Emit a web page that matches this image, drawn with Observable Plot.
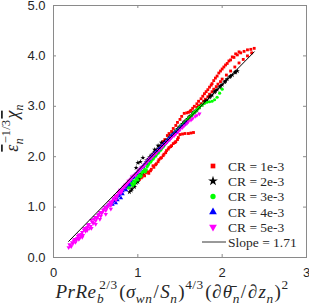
<!DOCTYPE html>
<html><head><meta charset="utf-8">
<script src="https://cdn.jsdelivr.net/npm/d3@7"></script>
<script src="https://cdn.jsdelivr.net/npm/@observablehq/plot@0.6"></script>
<style>body{margin:0;background:#fff}</style>
</head><body><div id="chart"></div>
<script>
const xTicks = [0, 1, 2, 3];
const yTicks = [0, 1, 2, 3, 4, 5];
const seriesLabels = ["CR = 1e-3", "CR = 2e-3", "CR = 3e-3", "CR = 4e-3", "CR = 5e-3"];
const seriesColors = ["#ff0000", "#000000", "#00ff00", "#0000ff", "#ff00ff"];
const slopeLabel = "Slope = 1.71";
const slopeX = [0.18, 2.38];
const slopeY = [0.32, 4.08];

const cr1 = [
 [1.02,1.55],[1.05,1.60],[1.08,1.62],[1.10,1.68],[1.13,1.67],[1.16,1.75],[1.19,1.79],[1.22,1.86],[1.25,1.94],[1.28,1.98],
 [1.31,2.05],[1.34,2.12],[1.37,2.18],[1.40,2.22],[1.42,2.26],[1.45,2.30],[1.48,2.38],
 [1.50,2.44],[1.53,2.45],[1.56,2.46],[1.60,2.46],[1.63,2.47],[1.66,2.48],
 [1.30,2.30],[1.35,2.42],[1.40,2.50],[1.45,2.62],[1.50,2.74],[1.55,2.86],[1.60,2.88],[1.63,2.92],
 [1.20,2.06],[1.25,2.14],[1.30,2.22],[1.35,2.32],[1.40,2.40],[1.45,2.48],[1.50,2.58],[1.55,2.66],[1.60,2.74],
 [1.65,2.96],[1.70,3.05],[1.75,3.15],[1.79,3.25],[1.83,3.33],[1.87,3.42],[1.90,3.51],[1.94,3.60],[1.98,3.70],[2.02,3.78],
 [2.06,3.85],[2.10,3.92],[2.14,3.97],[2.18,4.02],[2.22,4.06],[2.26,4.09],[2.30,4.12],[2.34,4.13],[2.38,4.15],
 [1.70,2.98],[1.75,3.05],[1.80,3.14],[1.85,3.24],[1.90,3.34],[1.95,3.44],[2.00,3.54],[2.05,3.62],[2.10,3.70],[2.15,3.78],
 [2.20,3.86],[2.25,3.93],[2.30,4.00],[2.35,4.06],
 [1.88,3.45],[1.92,3.56],[1.96,3.66],[2.00,3.74],[2.04,3.82],[2.08,3.90],[2.12,3.98],[2.16,4.04],[2.20,4.08],
 [1.04,1.58],[1.07,1.64],[1.12,1.70],[1.15,1.72],[1.18,1.82],[1.21,1.84],[1.24,1.90],[1.27,1.97],[1.30,2.02],[1.33,2.08],
 [1.36,2.15],[1.39,2.20],[1.44,2.28],[1.47,2.34],[1.32,2.34],[1.37,2.46],[1.42,2.56],[1.47,2.68],[1.52,2.80],[1.58,2.87],
 [1.62,2.90],[1.22,2.10],[1.27,2.18],[1.33,2.28],[1.38,2.36],[1.43,2.45],[1.48,2.54],[1.53,2.62],[1.58,2.70],[1.62,2.80],
 [1.67,3.00],[1.72,3.10],[1.77,3.20],[1.81,3.29],[1.85,3.38],[1.72,3.01],[1.78,3.10],[1.83,3.19],[1.88,3.29],[1.93,3.39],[1.98,3.49]
];
const cr2 = [
 [0.90,1.30],[0.93,1.36],[0.95,1.42],[0.98,1.48],[1.00,1.50],[1.03,1.62],[1.06,1.68],[1.08,1.72],
 [0.98,1.78],[1.00,1.88],[1.03,1.90],[1.06,1.98],
 [1.10,1.90],[1.13,1.96],[1.16,2.02],[1.19,2.06],[1.22,2.12],[1.25,2.16],[1.28,2.22],[1.31,2.26],[1.34,2.32],[1.37,2.36],
 [1.40,2.42],[1.43,2.46],[1.46,2.52],[1.49,2.58],[1.52,2.62],[1.55,2.68],[1.58,2.72],[1.61,2.78],[1.64,2.82],[1.67,2.88],
 [1.70,2.92],[1.73,2.98],[1.76,3.03],[1.79,3.08],[1.82,3.12],[1.85,3.18],[1.88,3.22],[1.91,3.28],[1.94,3.33],[1.97,3.38],
 [2.00,3.43],[2.03,3.48],[2.06,3.54],[2.09,3.58],[2.12,3.62],[2.15,3.67],[2.18,3.70],
 [1.11,1.93],[1.14,1.99],[1.17,2.04],[1.20,2.09],[1.23,2.14],[1.26,2.20],[1.29,2.24],[1.32,2.30],[1.35,2.34],[1.38,2.40],
 [1.41,2.44],[1.44,2.50],[1.47,2.55],[1.50,2.60],[1.53,2.65],[1.56,2.70],[1.59,2.75],[1.62,2.80],[1.65,2.86],[1.68,2.90],
 [1.80,3.10],[1.86,3.20],[1.92,3.30],[1.98,3.40],[2.04,3.50],[2.10,3.60],[2.16,3.68],[0.92,1.33],[0.96,1.40],[1.01,1.56],
 [1.04,1.66],[1.20,2.14],[1.24,2.22],[1.28,2.28]
];
const cr3 = [
 [0.86,1.40],[0.88,1.44],[0.90,1.40],[0.92,1.46],[0.94,1.43],[0.95,1.52],[0.97,1.50],[0.99,1.58],[1.01,1.62],[1.03,1.60],
 [1.05,1.68],[1.07,1.72],[1.09,1.70],[1.11,1.80],[1.13,1.86],[1.16,1.92],[1.19,1.98],[1.22,2.04],[1.25,2.10],[1.28,2.16],
 [1.31,2.22],[1.34,2.30],[1.37,2.36],[1.40,2.42],[1.43,2.46],[1.46,2.52],[1.49,2.56],[1.52,2.62],[1.55,2.66],[1.58,2.72],
 [1.61,2.77],[1.64,2.82],[1.67,2.88],[1.70,2.93],[1.73,2.98],[1.76,3.02],[1.79,3.06],[1.82,3.08],[1.85,3.09],[1.88,3.10],
 [1.91,3.13],[1.94,3.18],[1.97,3.26],[2.00,3.34],
 [0.87,1.42],[0.89,1.38],[0.91,1.44],[0.93,1.48],[0.96,1.46],[0.98,1.55],[1.00,1.54],[1.02,1.64],[1.04,1.62],[1.06,1.70],
 [1.08,1.75],[1.10,1.74],[1.12,1.83],[1.15,1.89],[1.18,1.95],[1.21,2.01],[1.24,2.07],[1.27,2.13],[1.30,2.19],[1.33,2.26],
 [1.36,2.33],[1.39,2.39],[1.42,2.44],[1.45,2.50],[1.48,2.54],[1.51,2.60],[1.54,2.64],[1.57,2.70],[1.60,2.75],[1.63,2.80],
 [1.66,2.86],[1.69,2.91],[1.72,2.96]
];
const cr4 = [
 [0.62,0.98],[0.66,1.04],[0.70,1.10],[0.72,1.12],[0.75,1.20],[0.78,1.25],[0.80,1.30],[0.83,1.36],[0.86,1.42],[0.89,1.49],
 [0.92,1.55],[0.95,1.60],[0.98,1.66],[1.01,1.72],[1.04,1.78],[1.07,1.83],[1.10,1.89],[1.13,1.94],[1.16,2.00],[1.19,2.05],
 [1.22,2.10],[1.25,2.15],[1.28,2.20],[1.31,2.25],[1.34,2.30],[1.37,2.36],[1.40,2.41],[1.43,2.46],[1.46,2.50],[1.49,2.55],
 [1.52,2.60],[1.55,2.64],[1.58,2.69],[0.74,1.08],[0.80,1.18],[0.86,1.34],
 [0.64,1.02],[0.68,1.08],[0.71,1.14],[0.74,1.18],[0.77,1.22],[0.79,1.28],[0.82,1.32],[0.85,1.40],[0.88,1.46],[0.91,1.52],
 [0.94,1.58],[0.97,1.63],[1.00,1.69],[1.03,1.75],[1.06,1.80],[1.09,1.86],[1.12,1.92],[1.15,1.97],[1.18,2.02],[1.21,2.08],
 [1.24,2.13],[1.27,2.18],[1.30,2.23],[1.33,2.28],[1.36,2.33],[1.39,2.39],[1.42,2.44],[1.45,2.48],[1.48,2.53],[1.51,2.58],
 [1.54,2.62],[1.57,2.67],[0.70,1.05],[0.76,1.14],[0.82,1.26],[0.90,1.44]
];
const cr5 = [
 [0.18,0.20],[0.20,0.24],[0.22,0.30],[0.24,0.33],[0.26,0.30],[0.28,0.38],[0.30,0.45],[0.32,0.42],[0.34,0.50],[0.36,0.55],
 [0.38,0.52],[0.40,0.60],[0.42,0.66],[0.44,0.62],[0.46,0.70],[0.48,0.76],[0.50,0.73],[0.52,0.80],[0.54,0.86],[0.56,0.82],
 [0.58,0.90],[0.60,0.96],[0.62,0.93],[0.64,1.00],[0.66,1.06],[0.68,1.03],[0.70,1.12],[0.72,1.18],[0.74,1.14],[0.76,1.24],
 [0.78,1.30],[0.80,1.28],[0.82,1.36],[0.84,1.40],[0.86,1.44],[0.88,1.48],[0.90,1.52],[0.92,1.56],[0.95,1.62],[0.98,1.66],
 [1.00,1.70],[1.04,1.78],[1.08,1.84],[1.12,1.92],[1.16,1.98],[1.20,2.05],[1.25,2.13],[1.30,2.22],[1.35,2.30],[1.40,2.38],
 [1.45,2.45],[1.50,2.54],[1.55,2.62],[1.60,2.70],[1.65,2.76],[1.70,2.82],[1.73,2.85],
 [0.30,0.36],[0.34,0.40],[0.40,0.54],[0.45,0.58],[0.50,0.66],[0.55,0.76],[0.62,0.86],[0.68,0.96],
 [0.19,0.26],[0.21,0.22],[0.23,0.28],[0.25,0.36],[0.27,0.34],[0.29,0.42],[0.31,0.38],[0.33,0.46],[0.35,0.44],[0.37,0.58],
 [0.39,0.56],[0.41,0.64],[0.43,0.58],[0.45,0.74],[0.47,0.68],[0.49,0.80],[0.51,0.78],[0.53,0.84],[0.55,0.90],[0.57,0.88],
 [0.59,0.94],[0.61,1.00],[0.63,0.98],[0.65,1.04],[0.67,1.10],[0.69,1.08],[0.71,1.16],[0.73,1.22],[0.75,1.20],[0.77,1.28],
 [0.79,1.34],[0.81,1.32],[0.83,1.40],[0.85,1.44],[0.87,1.46],[0.89,1.52],[0.91,1.54],[0.93,1.60],[0.97,1.64],[1.02,1.74],
 [1.06,1.80],[1.10,1.88],[1.14,1.96],[1.18,2.02],[1.22,2.08],[1.28,2.18],[1.33,2.26],[1.38,2.34],[1.43,2.42],[1.48,2.50],
 [1.53,2.58],[1.58,2.66],[1.63,2.73],[1.68,2.80]
];

const triangleDown = {
  draw(ctx, size) {
    const s3 = Math.sqrt(3);
    const y = -Math.sqrt(size / (s3 * 3));
    ctx.moveTo(0, -y * 2);
    ctx.lineTo(-s3 * y, y);
    ctx.lineTo(s3 * y, y);
    ctx.closePath();
  }
};
const symbols = ["square", "star", "circle", "triangle", triangleDown];
const d3Symbols = [d3.symbolSquare, d3.symbolStar, d3.symbolCircle, d3.symbolTriangle, triangleDown];
const allSeries = [cr1, cr2, cr3, cr4, cr5];
const toRows = (arr) => arr.map(([x, y]) => ({x, y}));
const slopeRows = slopeX.map((x, i) => ({x, y: slopeY[i]}));

const axisColor = "#8a8a8a";
const textColor = "#262626";

const plot = Plot.plot({
  width: 309, height: 305,
  marginLeft: 53, marginRight: 3, marginTop: 5, marginBottom: 48,
  x: {domain: [0, 3]},
  y: {domain: [0, 5]},
  style: {fontFamily: "'Liberation Sans', Arial, sans-serif", fontSize: "13px", color: textColor, background: "white"},
  marks: [
    ...allSeries.map((s, i) => Plot.dot(toRows(s), {
      x: "x", y: "y", symbol: () => symbols[i], fill: seriesColors[i], stroke: "none", r: 1.6
    })),
    Plot.line(slopeRows, {x: "x", y: "y", stroke: "black", strokeWidth: 1}),
    Plot.frame({stroke: axisColor}),
    Plot.tickX(xTicks, {x: d => d, insetTop: 249, stroke: axisColor}),
    Plot.tickX(xTicks, {x: d => d, insetBottom: 249, stroke: axisColor}),
    Plot.tickY(yTicks, {y: d => d, insetLeft: 250, stroke: axisColor}),
    Plot.tickY(yTicks, {y: d => d, insetRight: 250, stroke: axisColor}),
    Plot.axisX(xTicks, {tickSize: 0, tickPadding: 10, label: null, fill: textColor}),
    Plot.axisY(yTicks, {tickSize: 0, tickPadding: 8, label: null, tickFormat: d3.format(".1f"), fill: textColor})
  ]
});
document.getElementById("chart").appendChild(plot);

const svg = d3.select(plot);
const serif = "'Liberation Serif', 'Times New Roman', serif";

// Legend
const legendRowsY = [166, 181, 196.5, 212, 227, 242];
const legend = svg.append("g").attr("text-anchor", "start");
const symSizes = [22, 30, 22, 26, 26];
seriesLabels.forEach((lab, i) => {
  legend.append("path")
    .attr("d", d3.symbol(d3Symbols[i], symSizes[i])())
    .attr("transform", `translate(213,${legendRowsY[i]})`)
    .attr("fill", seriesColors[i]);
  legend.append("text").attr("x", 228).attr("y", legendRowsY[i]).attr("dy", "0.35em")
    .attr("text-anchor", "start")
    .attr("font-family", serif).attr("font-size", 13.5).attr("fill", textColor).text(lab);
});
legend.append("line").attr("x1", 202).attr("x2", 226).attr("y1", legendRowsY[5]).attr("y2", legendRowsY[5])
  .attr("stroke", "black").attr("stroke-width", 0.8);
legend.append("text").attr("x", 228).attr("y", legendRowsY[5]).attr("dy", "0.35em")
  .attr("text-anchor", "start")
  .attr("font-family", serif).attr("font-size", 13.5).attr("fill", textColor).text(slopeLabel);

// math label helper
function mathText(g, parts, base) {
  const t = g.append("text").attr("font-family", serif).attr("font-size", base).attr("fill", textColor);
  let cur = 0;
  parts.forEach(p => {
    const shift = p.s === "sub" ? base * 0.28 : p.s === "sup" ? -base * 0.45 : 0;
    const ts = t.append("tspan").text(p.t)
      .attr("dy", shift - cur)
      .attr("font-size", p.s ? base * 0.7 : base)
      .attr("font-style", p.it ? "italic" : "normal");
    if (p.dx) ts.attr("dx", p.dx);
    if (p.ov) ts.attr("text-decoration", "overline");
    cur = shift;
  });
  return t;
}

const xl = svg.append("g").attr("transform", "translate(172,298)");
mathText(xl, [
  {t: "PrRe", it: true}, {t: "b", it: true, s: "sub", dx: 0.5}, {t: "2/3", s: "sup", dx: -5},
  {t: "(", dx: 1.5}, {t: "σ", it: true}, {t: "wn", it: true, s: "sub"}, {t: "/", dx: 1}, {t: "S", it: true, dx: 1}, {t: "n", it: true, s: "sub"},
  {t: ")", dx: 1}, {t: "4/3", s: "sup"},
  {t: "(", dx: 1.5}, {t: "∂"}, {t: "θ̄", it: true, dx: 1}, {t: "n", it: true, s: "sub"}, {t: "/", dx: 1}, {t: "∂", dx: 1}, {t: "z", it: true, dx: 1},
  {t: "n", it: true, s: "sub"}, {t: ")", dx: 1}, {t: "2", s: "sup"}
], 19).attr("text-anchor", "middle").attr("letter-spacing", 0.5);

const yl = svg.append("g").attr("transform", "translate(18,128) rotate(-90)");
mathText(yl, [
  {t: "ε", it: true, ov: true}, {t: "n", it: true, s: "sub"}, {t: "−1/3", s: "sup", dx: -5},
  {t: "χ", it: true, ov: true, dx: 1.5}, {t: "n", it: true, s: "sub"}
], 18).attr("text-anchor", "middle");
</script>
</body></html>
